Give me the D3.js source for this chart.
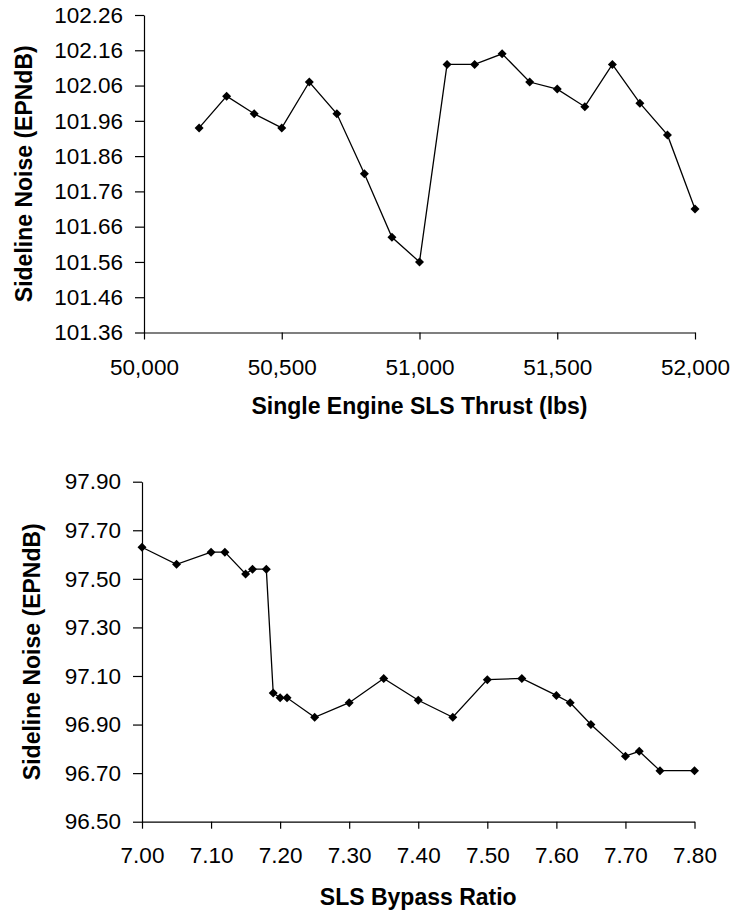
<!DOCTYPE html>
<html>
<head>
<meta charset="utf-8">
<script src="https://cdn.jsdelivr.net/npm/d3@7"></script>
<style>
  html, body { margin: 0; padding: 0; background: #fff; }
  svg { display: block; }
  text { font-family: "Liberation Sans", Arial, sans-serif; fill: #000; }
</style>
</head>
<body>
<svg id="chart" width="734" height="914"></svg>
<script>
// ---- Data ----
const thrust = [50200, 50300, 50400, 50500, 50600, 50700, 50800, 50900, 51000, 51100,
                51200, 51300, 51400, 51500, 51600, 51700, 51800, 51900, 52000];
const thrustNoise = [101.94, 102.03, 101.98, 101.94, 102.07, 101.98, 101.81, 101.63, 101.56, 102.12,
                     102.12, 102.15, 102.07, 102.05, 102.00, 102.12, 102.01, 101.92, 101.71];
const thrustTicks = [50000, 50500, 51000, 51500, 52000];
const thrustNoiseTicks = [101.36, 101.46, 101.56, 101.66, 101.76, 101.86, 101.96, 102.06, 102.16, 102.26];

const bpr = [7.00, 7.05, 7.10, 7.12, 7.15, 7.16, 7.18, 7.19, 7.20, 7.21, 7.25, 7.30,
             7.35, 7.40, 7.45, 7.50, 7.55, 7.60, 7.62, 7.65, 7.70, 7.72, 7.75, 7.80];
const bprNoise = [97.63, 97.56, 97.61, 97.61, 97.52, 97.54, 97.54, 97.03, 97.01, 97.01, 96.93, 96.99,
                  97.09, 97.00, 96.93, 97.085, 97.09, 97.02, 96.99, 96.90, 96.77, 96.79, 96.71, 96.71];
const bprTicks = [7.00, 7.10, 7.20, 7.30, 7.40, 7.50, 7.60, 7.70, 7.80];
const bprNoiseTicks = [96.50, 96.70, 96.90, 97.10, 97.30, 97.50, 97.70, 97.90];

const yTitle = "Sideline Noise (EPNdB)";

const svg = d3.select("#chart");
const diamond = "M0,-4.5L4.5,0L0,4.5L-4.5,0Z";

function drawPanel(cfg) {
  const g = svg.append("g");
  const x = d3.scaleLinear().domain(cfg.xDomain).range([cfg.left, cfg.right]);
  const y = d3.scaleLinear().domain(cfg.yDomain).range([cfg.bottom, cfg.top]);

  const xAxis = g.append("g")
    .attr("transform", `translate(0,${cfg.bottom})`)
    .call(d3.axisBottom(x).tickValues(cfg.xTicks).tickFormat(cfg.xFormat)
      .tickSizeInner(7).tickSizeOuter(0).tickPadding(cfg.xPad));
  const yAxis = g.append("g")
    .attr("transform", `translate(${cfg.left},0)`)
    .call(d3.axisLeft(y).tickValues(cfg.yTicks).tickFormat(d3.format(".2f"))
      .tickSizeInner(9).tickSizeOuter(0).tickPadding(12));

  [xAxis, yAxis].forEach(a => {
    a.attr("font-size", null).attr("font-family", null);
    a.selectAll("path, line").attr("stroke", "#000").attr("stroke-width", 1.2);
    a.selectAll("text").style("font-size", "22.5px").style("font-family", '"Liberation Sans", Arial, sans-serif').attr("fill", "#000");
  });

  const pts = cfg.xs.map((d, i) => [d, cfg.ys[i]]);
  const line = d3.line().x(d => x(d[0])).y(d => y(d[1]));
  g.append("path").datum(pts)
    .attr("d", line).attr("fill", "none").attr("stroke", "#000").attr("stroke-width", 1.3);

  g.selectAll("path.pt").data(pts).enter().append("path")
    .attr("class", "pt")
    .attr("d", diamond)
    .attr("transform", d => `translate(${x(d[0])},${y(d[1])})`)
    .attr("fill", "#000");

  g.append("text")
    .attr("x", (cfg.left + cfg.right) / 2).attr("y", cfg.xTitleY)
    .attr("text-anchor", "middle")
    .style("font-size", "23px").style("font-weight", "bold")
    .text(cfg.xTitle);

  g.append("text")
    .attr("transform", `translate(${cfg.yTitleX},${(cfg.top + cfg.bottom) / 2}) rotate(-90)`)
    .attr("text-anchor", "middle").attr("dy", "0.35em")
    .style("font-size", "23px").style("font-weight", "bold")
    .text(yTitle);
}

drawPanel({
  xs: thrust, ys: thrustNoise,
  xDomain: [50000, 52000], yDomain: [101.36, 102.26],
  xTicks: thrustTicks, yTicks: thrustNoiseTicks,
  xFormat: d3.format(",d"),
  left: 144, right: 695, top: 15, bottom: 332.5,
  xPad: 20, xTitle: "Single Engine SLS Thrust (lbs)", xTitleY: 414, yTitleX: 24
});

drawPanel({
  xs: bpr, ys: bprNoise,
  xDomain: [7.0, 7.8], yDomain: [96.5, 97.9],
  xTicks: bprTicks, yTicks: bprNoiseTicks,
  xFormat: d3.format(".2f"),
  left: 142, right: 694.5, top: 481.7, bottom: 821.7,
  xPad: 18.5, xTitle: "SLS Bypass Ratio", xTitleY: 905, yTitleX: 32
});
</script>
</body>
</html>
